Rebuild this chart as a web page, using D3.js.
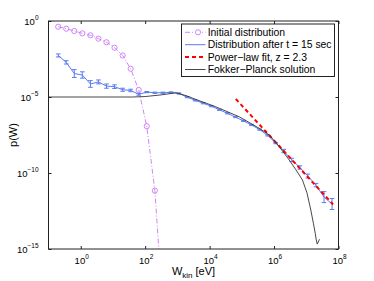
<!DOCTYPE html>
<html>
<head>
<meta charset="utf-8">
<script src="https://cdn.jsdelivr.net/npm/d3@7"></script>
<style>
body { margin:0; background:#fff; }
text { font-family: "Liberation Sans", Arial, Helvetica, sans-serif; fill:#000; }
</style>
</head>
<body>
<div id="chart"></div>
<script>
// energy grid shared by both measured distributions [eV]
var energy = [0.2, 0.355, 0.631, 1.12, 2.0, 3.55, 6.31, 11.2, 20.0, 35.5, 63.1, 112, 200, 355,
	631, 1120, 2000, 3550, 6310, 11200, 20000, 35500, 63100, 112000, 200000, 355000, 631000,
	1.12e6, 2.0e6, 3.55e6, 6.31e6, 1.12e7, 2.0e7, 3.55e7, 6.31e7];

// initial distribution (first 14 energies)
var initP = [0.42, 0.311, 0.22, 0.155, 0.115, 0.0686, 0.0398, 0.0175, 5.4e-3, 7.2e-4, 2.9e-5,
	1.2e-7, 6.9e-12, 1e-19];

// distribution after t = 15 sec, with error bar half width in decades
var distP = [5.4e-3, 1.9e-3, 3.5e-4, 2.8e-4, 7.2e-5, 9.8e-5, 5.2e-5, 4.8e-5, 3.0e-5, 2.7e-5, 1.5e-5,
	2.1e-5, 1.9e-5, 1.9e-5, 2.0e-5, 1.7e-5, 9.8e-6, 6.0e-6, 3.9e-6, 2.5e-6, 1.45e-6, 8.5e-7, 4.8e-7,
	2.7e-7, 1.45e-7, 7.2e-8, 3.0e-8, 9.3e-9, 2.8e-9, 7.2e-10, 2.3e-10, 6.3e-11, 1.6e-11, 2.6e-12, 9.1e-13];
var distErr = [0.1, 0.11, 0.26, 0.21, 0.22, 0.13, 0.14, 0.12, 0.1, 0.08, 0.06, 0.04, 0.04, 0.04, 0.04,
	0.04, 0.04, 0.04, 0.04, 0.04, 0.04, 0.04, 0.04, 0.04, 0.04, 0.04, 0.04, 0.04, 0.11, 0.11, 0.11,
	0.13, 0.11, 0.36, 0.36];

// power-law fit, z = 2.3 (end points)
var fitW = [6.5e4, 6.8e7];
var fitP = [7.4e-6, 8.5e-13];

// Fokker-Planck solution
var fpW = [0.1, 40, 100, 316, 912, 2000, 3800, 12600, 20000, 83000, 347000, 708000, 1.45e6, 2.95e6,
	4.79e6, 7.59e6, 1.05e7, 1.38e7, 1.66e7, 1.91e7, 2.04e7, 2.19e7, 2.57e7];
var fpP = [1e-5, 1e-5, 1.07e-5, 1.38e-5, 1.9e-5, 1.17e-5, 6.8e-6, 2.7e-6, 1.8e-6, 5.0e-7, 8.7e-8,
	3.2e-8, 5.4e-9, 7.2e-10, 1.6e-10, 3.5e-11, 5.0e-12, 3.7e-13, 5.0e-14, 1.0e-14, 3.9e-15, 2.1e-15, 4.4e-15];

var xTicks = [1, 1e2, 1e4, 1e6, 1e8];
var xTickExp = ["0", "2", "4", "6", "8"];
var yTicks = [1, 1e-5, 1e-10, 1e-15];
var yTickExp = ["0", "\u22125", "\u221210", "\u221215"];

var legendLabels = ["Initial distribution", "Distribution after t = 15 sec",
	"Power\u2212law fit, z = 2.3", "Fokker\u2212Planck solution"];

var cInit = "#c978f5", cDist = "#5a7cf2", cFit = "#ff0000", cFp = "#333333";

var W = 374, H = 281;
var margin = { top:21, right:35.5, bottom:32, left:48.5 },
	width = W - margin.left - margin.right,
	height = H - margin.top - margin.bottom;

var x = d3.scaleLog().domain([0.1, 1e8]).range([0, width]);
var y = d3.scaleLog().domain([1e-15, 1]).range([height, 0]);

var svg = d3.select("#chart").append("svg")
	.attr("width", W).attr("height", H)
	.append("g").attr("transform", "translate(" + margin.left + "," + margin.top + ")");

svg.append("clipPath").attr("id", "clip")
	.append("rect").attr("width", width).attr("height", height);

var plot = svg.append("g").attr("clip-path", "url(#clip)");

var line = d3.line()
	.x(function(d) { return x(d[0]); })
	.y(function(d) { return y(d[1]); });

// initial distribution
var initData = initP.map(function(p, i) { return [energy[i], p]; });
plot.append("path").datum(initData)
	.attr("d", line).attr("fill", "none").attr("stroke", cInit)
	.attr("stroke-width", 0.9).attr("stroke-dasharray", "5,2,1,2");
plot.selectAll(".init").data(initData).enter().append("circle")
	.attr("class", "init")
	.attr("cx", function(d) { return x(d[0]); })
	.attr("cy", function(d) { return y(d[1]); })
	.attr("r", 2.6).attr("fill", "none").attr("stroke", cInit).attr("stroke-width", 0.9);

// distribution after 15 s
var distData = distP.map(function(p, i) { return [energy[i], p, distErr[i]]; });
plot.append("path").datum(distData)
	.attr("d", line).attr("fill", "none").attr("stroke", cDist).attr("stroke-width", 1);
var eb = plot.selectAll(".eb").data(distData).enter().append("g").attr("class", "eb")
	.attr("stroke", cDist).attr("stroke-width", 1);
eb.append("line")
	.attr("x1", function(d) { return x(d[0]); }).attr("x2", function(d) { return x(d[0]); })
	.attr("y1", function(d) { return y(d[1] * Math.pow(10, d[2])); })
	.attr("y2", function(d) { return y(d[1] / Math.pow(10, d[2])); });
[1, -1].forEach(function(s) {
	eb.append("line")
		.attr("x1", function(d) { return x(d[0]) - 2.3; }).attr("x2", function(d) { return x(d[0]) + 2.3; })
		.attr("y1", function(d) { return y(d[1] * Math.pow(10, s * d[2])); })
		.attr("y2", function(d) { return y(d[1] * Math.pow(10, s * d[2])); });
});

// power-law fit
plot.append("path").datum(fitW.map(function(w, i) { return [w, fitP[i]]; }))
	.attr("d", line).attr("fill", "none").attr("stroke", cFit)
	.attr("stroke-width", 2).attr("stroke-dasharray", "4,3");

// Fokker-Planck
plot.append("path").datum(fpW.map(function(w, i) { return [w, fpP[i]]; }))
	.attr("d", line).attr("fill", "none").attr("stroke", cFp).attr("stroke-width", 0.9);

// axes box
svg.append("rect").attr("width", width).attr("height", height)
	.attr("fill", "none").attr("stroke", "#222").attr("stroke-width", 1);

svg.append("g").attr("transform", "translate(0," + height + ")")
	.call(d3.axisBottom(x).tickValues(xTicks).tickSize(-3).tickFormat(""))
	.call(function(g) { g.select(".domain").remove(); });
svg.append("g")
	.call(d3.axisTop(x).tickValues(xTicks).tickSize(-3).tickFormat(""))
	.call(function(g) { g.select(".domain").remove(); });
svg.append("g")
	.call(d3.axisLeft(y).tickValues(yTicks).tickSize(-3).tickFormat(""))
	.call(function(g) { g.select(".domain").remove(); });
svg.append("g").attr("transform", "translate(" + width + ",0)")
	.call(d3.axisRight(y).tickValues(yTicks).tickSize(-3).tickFormat(""))
	.call(function(g) { g.select(".domain").remove(); });
svg.selectAll(".tick line").attr("stroke", "#222");

// tick labels with superscripts
xTicks.forEach(function(t, i) {
	var tx = svg.append("text").attr("x", x(t) + 1).attr("y", height + 14.5)
		.attr("text-anchor", "middle").style("font-size", "9.5px");
	tx.append("tspan").text("10");
	tx.append("tspan").attr("dy", -4.5).style("font-size", "6.5px").text(xTickExp[i]);
});
yTicks.forEach(function(t, i) {
	var ty = svg.append("text").attr("x", -10).attr("y", y(t) + 3.5)
		.attr("text-anchor", "end").style("font-size", "9.5px");
	ty.append("tspan").text("10");
	ty.append("tspan").attr("dy", -4.5).style("font-size", "6.5px").text(yTickExp[i]);
});

// axis labels
var xl = svg.append("text").attr("x", width / 2).attr("y", height + 26)
	.attr("text-anchor", "middle").style("font-size", "11px");
xl.append("tspan").text("W");
xl.append("tspan").attr("dy", 3).style("font-size", "8px").text("kin");
xl.append("tspan").attr("dy", -3).text(" [eV]");

svg.append("text").attr("transform", "translate(" + (17 - margin.left) + "," + (135 - margin.top) + ") rotate(-90)")
	.attr("text-anchor", "middle").style("font-size", "11px").text("p(W)");

// legend
var lg = svg.append("g").attr("transform", "translate(" + (181.5 - margin.left) + "," + (24 - margin.top) + ")");
lg.append("rect").attr("width", 153).attr("height", 52.5)
	.attr("fill", "#fff").attr("stroke", "#222").attr("stroke-width", 1);
var styles = [
	{ c: cInit, w: 0.9, dash: "5,2,1,2", marker: true },
	{ c: cDist, w: 1, dash: null },
	{ c: cFit, w: 2, dash: "4,3" },
	{ c: cFp, w: 0.9, dash: null }
];
legendLabels.forEach(function(lbl, i) {
	var ly = 8.3 + i * 12.4;
	var st = styles[i];
	lg.append("line").attr("x1", 3.5).attr("x2", 24).attr("y1", ly).attr("y2", ly)
		.attr("stroke", st.c).attr("stroke-width", st.w)
		.attr("stroke-dasharray", st.dash);
	if (st.marker) {
		lg.append("circle").attr("cx", 16.5).attr("cy", ly).attr("r", 2.6)
			.attr("fill", "#fff").attr("stroke", st.c).attr("stroke-width", 0.9);
	}
	lg.append("text").attr("x", 26.2).attr("y", ly + 3.7)
		.style("font-size", "10.4px").text(lbl);
});
</script>
</body>
</html>
